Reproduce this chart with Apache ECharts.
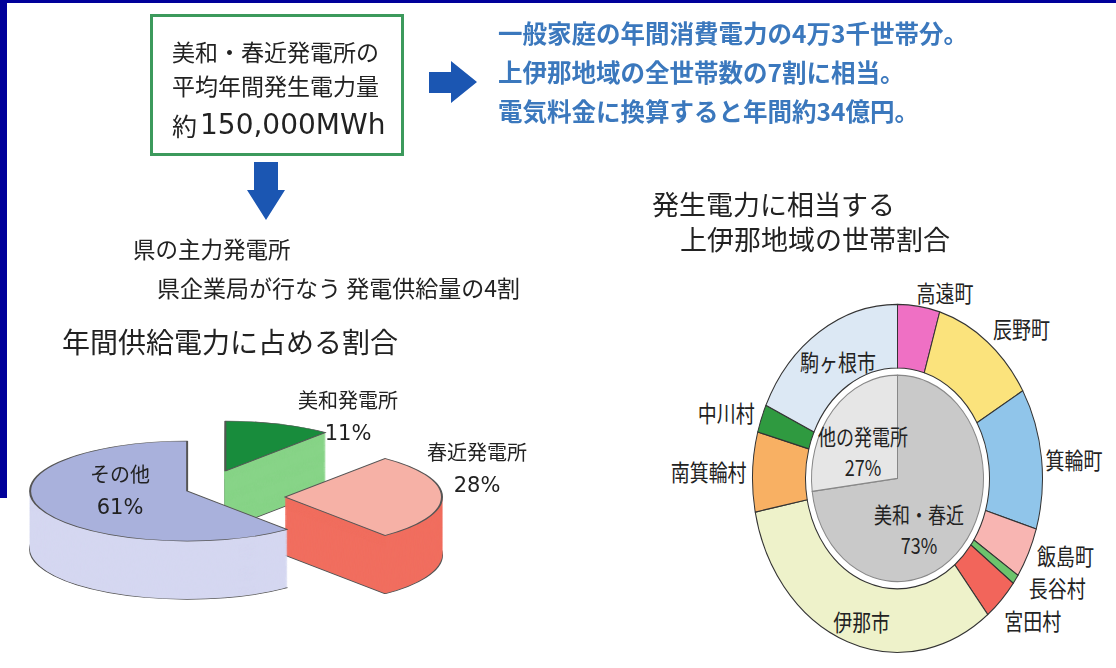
<!DOCTYPE html>
<html><head><meta charset="utf-8">
<script src="https://cdn.jsdelivr.net/npm/echarts@6/dist/echarts.min.js"></script>
<style>
html,body{margin:0;padding:0;background:#fff;overflow:hidden;width:1116px;height:668px}
#main{position:absolute;left:0;top:0;width:1116px;height:668px;z-index:5}
#pie3d{position:absolute;left:0;top:400px;width:480px;height:700px;transform-origin:0 0;transform:scaleY(0.3185);z-index:2}
#donut{position:absolute;left:640px;top:260px;width:476px;height:340px;transform-origin:0 0;transform:scaleY(1.2);z-index:2}
</style></head><body>
<div id="pie3d"></div><div id="donut"></div><div id="main"></div>
<script>
// ---------- data ----------
const boxLines = ['美和・春近発電所の', '平均年間発生電力量'];
const boxAmountPrefix = '約';
const boxAmount = '150,000MWh';
const effectLines = ['一般家庭の年間消費電力の4万3千世帯分。', '上伊那地域の全世帯数の7割に相当。', '電気料金に換算すると年間約34億円。'];
const leftNotes = ['県の主力発電所', '県企業局が行なう 発電供給量の4割'];
const leftTitle = '年間供給電力に占める割合';
const rightTitle = ['発生電力に相当する', '上伊那地域の世帯割合'];

const supplyNames = ['美和発電所', '春近発電所', 'その他'];
const supplyValues = [11, 28, 61];

const sourceNames = ['美和・春近', '他の発電所'];
const sourceValues = [73, 27];

const townNames = ['高遠町', '辰野町', '箕輪町', '飯島町', '長谷村', '宮田村', '伊那市', '南箕輪村', '中川村', '駒ヶ根市'];
const townValues = [4.7, 11.9, 13.1, 4.7, 0.9, 4.0, 32.6, 7.4, 2.6, 18.1];

// ---------- styles ----------
const JP = "'Noto Sans CJK JP', 'Noto Sans', sans-serif";
const TXT = '#222';
const supplyTop = ['#188c3c', '#f6b1a6', '#a9b1dc'];
const supplySide = ['#88d488', '#f16e5f', '#d5d7f1'];
const supplyOffset = [60, 80, 19];
const supplyCenterShift = [0, 25, 0];
const supplyLabelPos = [[348, 400], [477, 452], [120, 474]];
const townColors = ['#ef70c4', '#fbe37c', '#90c5ea', '#f8b5b2', '#6cc46c', '#f2655b', '#eef2ca', '#f8b063', '#2f9a40', '#dce8f4'];
const townLabelNudge = [[-8, -8], [-2, -8], [-5, 1], [0, 0], [5, 4], [-5, 14], [6, 5], [3, 0], [2, -4], [6, 5]];
const sourceColors = ['#c9c9c9', '#e6e6e6'];
const sourceLabelNudge = [[-13, 12], [0, 8]];

// ---------- main layer (frame, texts, arrows) ----------
const main = echarts.init(document.getElementById('main'), null, {renderer: 'canvas'});
const g = [];
g.push({type: 'rect', shape: {x: 0, y: 0, width: 1116, height: 3}, style: {fill: '#00009a'}});
g.push({type: 'rect', shape: {x: 0, y: 0, width: 7, height: 498}, style: {fill: '#00009a'}});
g.push({type: 'rect', shape: {x: 151.5, y: 15.5, width: 251, height: 139}, style: {fill: '#fff', stroke: '#3c9a5c', lineWidth: 3}});
boxLines.forEach((t, i) => g.push({type: 'text', x: 172, y: 52 + i * 34, style: {text: t, font: '23px ' + JP, fill: TXT, textVerticalAlign: 'middle'}}));
g.push({type: 'text', x: 172, y: 126, style: {text: boxAmountPrefix, font: '25px ' + JP, fill: TXT, textVerticalAlign: 'middle'}});
g.push({type: 'text', x: 200, y: 127, style: {text: boxAmount, font: "28px 'DejaVu Sans', sans-serif", fill: TXT, textVerticalAlign: 'middle'}});
// right arrow
g.push({type: 'polygon', shape: {points: [[429, 72], [451, 72], [451, 61], [477, 82], [451, 103], [451, 93], [429, 93]]}, style: {fill: '#1b56b2'}});
// down arrow
g.push({type: 'polygon', shape: {points: [[254, 162], [278, 162], [278, 190], [285, 190], [266, 220], [247, 190], [254, 190]]}, style: {fill: '#1b56b2'}});
effectLines.forEach((t, i) => g.push({type: 'text', x: 498, y: 34 + i * 39, style: {text: t, font: 'bold 24.5px ' + JP, fill: '#3b78bd', textVerticalAlign: 'middle'}}));
g.push({type: 'text', x: 133, y: 249, style: {text: leftNotes[0], font: '22.5px ' + JP, fill: TXT, textVerticalAlign: 'middle'}});
g.push({type: 'text', x: 157, y: 288, style: {text: leftNotes[1], font: '23px ' + JP, fill: TXT, textVerticalAlign: 'middle'}});
g.push({type: 'text', x: 62, y: 342, style: {text: leftTitle, font: '28px ' + JP, fill: TXT, textVerticalAlign: 'middle'}});
g.push({type: 'text', x: 652, y: 205, style: {text: rightTitle[0], font: '27px ' + JP, fill: TXT, textVerticalAlign: 'middle'}});
g.push({type: 'text', x: 680, y: 240, style: {text: rightTitle[1], font: '27px ' + JP, fill: TXT, textVerticalAlign: 'middle'}});
// 3D pie labels
supplyNames.forEach((n, i) => {
  g.push({type: 'text', x: supplyLabelPos[i][0], y: supplyLabelPos[i][1], z: 100, style: {text: n, font: '20px ' + JP, fill: TXT, textAlign: 'center', textVerticalAlign: 'middle'}});
  g.push({type: 'text', x: supplyLabelPos[i][0], y: supplyLabelPos[i][1] + 35, z: 100, style: {text: supplyValues[i] + '%', font: "21px 'DejaVu Sans', sans-serif", fill: TXT, textAlign: 'center', textVerticalAlign: 'middle'}});
});
main.setOption({animation: false, backgroundColor: 'transparent', graphic: {elements: g}});

// ---------- 3D pie (extruded pie, vertically squashed) ----------
const pie = echarts.init(document.getElementById('pie3d'), null, {renderer: 'svg', width: 480, height: 700});
const base = [205, 279.4];
const depth = 182, step = 3;
const nLayers = Math.round(depth / step);
const pieSeries = [];
[0, 1, 2].forEach(i => {
  for (let k = nLayers; k >= 0; k--) {
    const isTop = k === 0, isBottom = k === nLayers;
    pieSeries.push({
      type: 'pie', silent: true, animation: false,
      radius: 157, center: [base[0], base[1] + supplyCenterShift[i] + k * step],
      startAngle: 90, clockwise: true,
      selectedMode: 'multiple', selectedOffset: supplyOffset[i],
      label: {show: false}, labelLine: {show: false},
      emphasis: {disabled: true},
      data: supplyValues.map((v, j) => ({
        value: v, name: supplyNames[j], selected: j === i,
        itemStyle: j === i
          ? {color: isTop ? supplyTop[i] : supplySide[i], borderColor: (isTop || isBottom) ? '#555' : supplySide[i], borderWidth: (isTop || isBottom) ? 2 : 0.5}
          : {color: 'rgba(0,0,0,0)', borderWidth: 0}
      }))
    });
  }
});
pie.setOption({animation: false, series: pieSeries});

// ---------- donut ----------
const donut = echarts.init(document.getElementById('donut'), null, {renderer: 'svg', width: 476, height: 340});
const insideTowns = ['伊那市', '駒ヶ根市'];
const C = [257.5, 182];
donut.setOption({
  animation: false,
  series: [
    {
      type: 'pie', silent: true, radius: [92, 145], center: C,
      startAngle: 90, clockwise: true, avoidLabelOverlap: false,
      itemStyle: {borderColor: '#333', borderWidth: 1},
      label: {show: true, position: 'outside', formatter: '{b}', fontFamily: JP, fontSize: 19, color: TXT},
      labelLine: {show: false, length: 4, length2: 0},
      labelLayout: p => ({dx: townLabelNudge[p.dataIndex][0], dy: townLabelNudge[p.dataIndex][1], hideOverlap: false, moveOverlap: null}),
      data: townNames.map((n, i) => ({
        name: n, value: townValues[i], itemStyle: {color: townColors[i]},
        label: insideTowns.includes(n) ? {position: 'inside'} : {}
      }))
    },
    {
      type: 'pie', silent: true, radius: [0, 86], center: C,
      startAngle: 90, clockwise: true,
      itemStyle: {borderColor: '#888', borderWidth: 1},
      label: {show: true, position: 'inside', formatter: '{b}\n{c}%', fontFamily: JP, fontSize: 18, lineHeight: 26, color: TXT},
      labelLine: {show: false},
      labelLayout: p => ({dx: sourceLabelNudge[p.dataIndex][0], dy: sourceLabelNudge[p.dataIndex][1]}),
      data: sourceNames.map((n, i) => ({name: n, value: sourceValues[i], itemStyle: {color: sourceColors[i]}}))
    }
  ]
});
</script>
</body></html>
